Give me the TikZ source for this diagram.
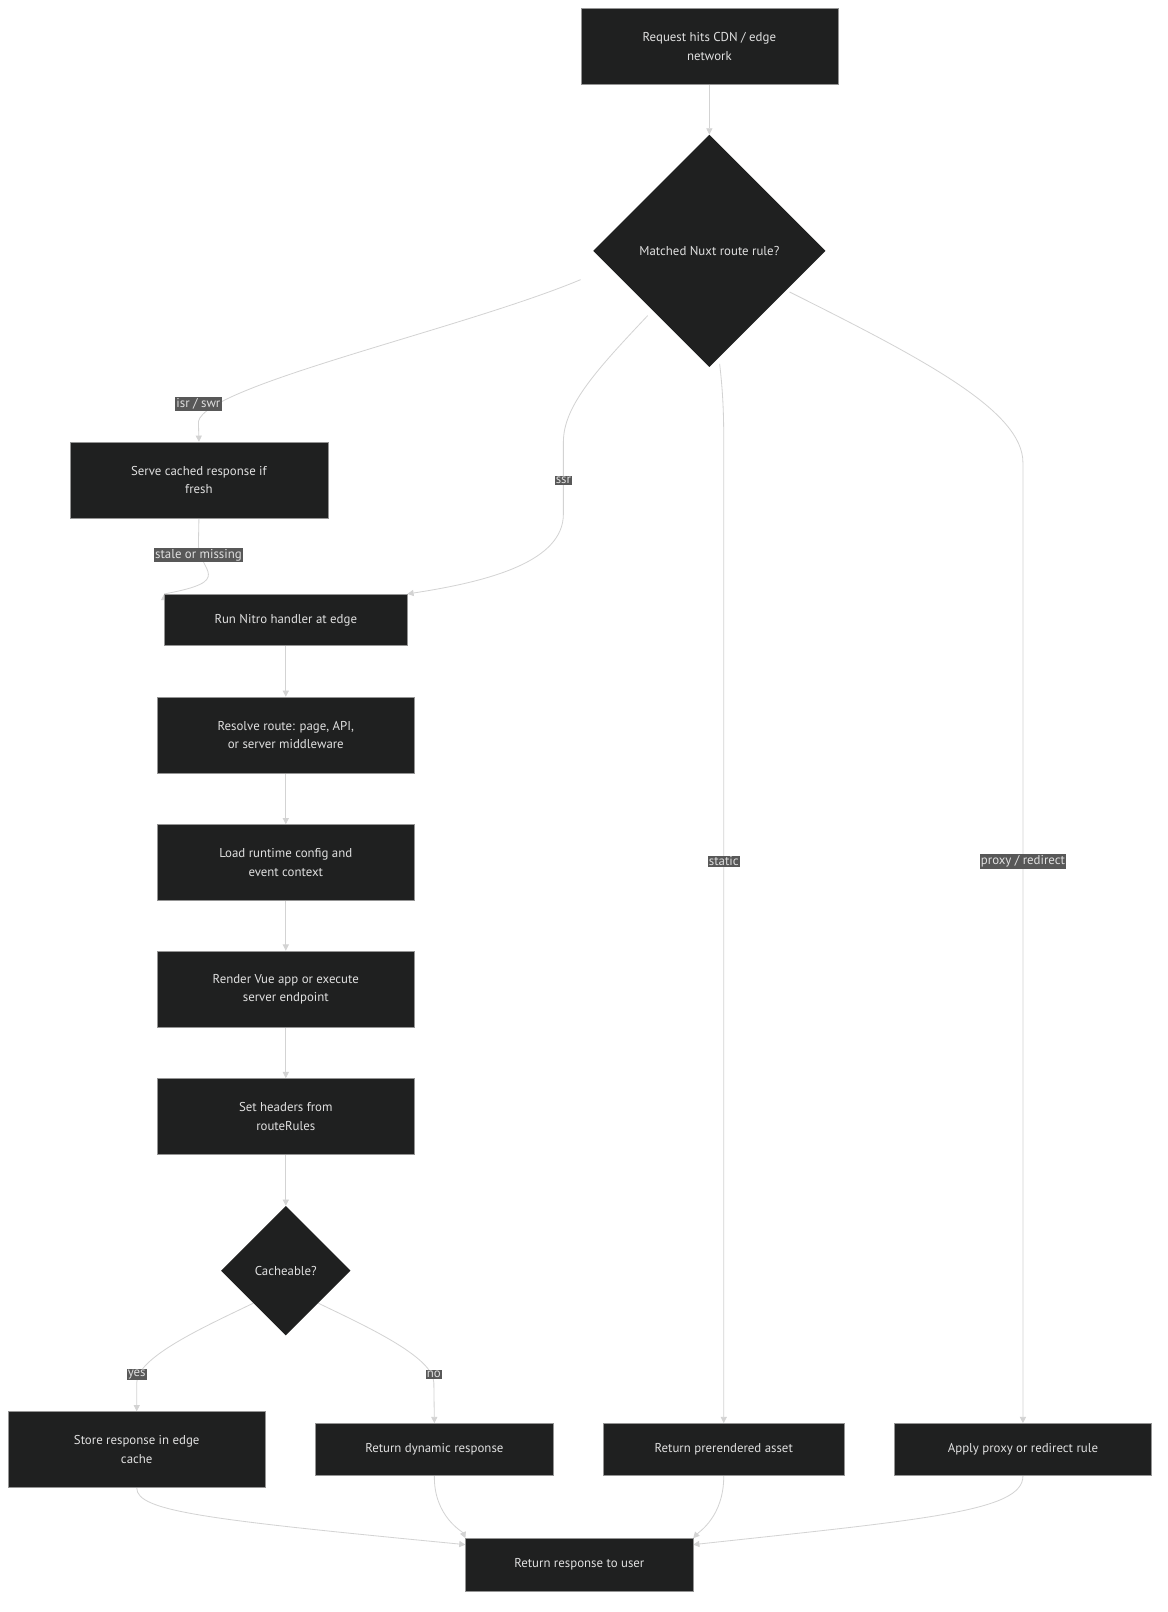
\documentclass[tikz,border=0pt]{standalone}
\usepackage{fontspec}
\setmainfont{PT Sans}
\usetikzlibrary{shapes.geometric,arrows.meta,backgrounds}
\definecolor{nodefill}{HTML}{1F2020}
\definecolor{edgec}{HTML}{D3D3D3}
\definecolor{lblfill}{HTML}{585858}
\definecolor{txt}{HTML}{E0E0E0}
\begin{document}
\begin{tikzpicture}[x=1pt,y=-1pt,
  box/.style={draw=edgec!70!black,line width=0.6pt,fill=nodefill,text=txt,minimum height=74,align=center,font=\fontsize{12.5}{18}\selectfont,inner sep=0pt},
  dia/.style={diamond,aspect=1,fill=nodefill,text=txt,inner sep=0pt,font=\fontsize{12.5}{18}\selectfont},
  e/.style={draw=edgec,line width=0.8pt,-{Triangle[length=6pt,width=6pt]}},
  lbl/.style={fill=lblfill,text=txt,inner sep=1.2pt,font=\fontsize{12.5}{15}\selectfont}]
\useasboundingbox (0,0) rectangle (1136,1568);
\node[box,minimum width=250] (req) at (690,45) {Request hits CDN / edge\\network};
\node[dia,minimum size=226] (dec) at (690,244) {Matched Nuxt route rule?};
\node[box,minimum width=251] (cache) at (193.5,467) {Serve cached response if\\fresh};
\node[box,minimum width=236,minimum height=50] (nitro) at (278,603) {Run Nitro handler at edge};
\node[box,minimum width=250] (resolve) at (278,715) {Resolve route: page, API,\\or server middleware};
\node[box,minimum width=250] (load) at (278,839) {Load runtime config and\\event context};
\node[box,minimum width=250] (render) at (278,962) {Render Vue app or execute\\server endpoint};
\node[box,minimum width=250] (headers) at (278,1086) {Set headers from\\routeRules};
\node[dia,minimum size=126] (cab) at (278,1236) {Cacheable?};
\node[box,minimum width=250] (store) at (133,1410) {Store response in edge\\cache};
\node[box,minimum width=231,minimum height=51] (dyn) at (422.5,1410) {Return dynamic response};
\node[box,minimum width=234,minimum height=51] (prer) at (704,1410) {Return prerendered asset};
\node[box,minimum width=250,minimum height=51] (proxy) at (995,1410) {Apply proxy or redirect rule};
\node[box,minimum width=221,minimum height=51] (user) at (563.5,1522) {Return response to user};
\begin{scope}[on background layer]
\draw[e] (req) -- (dec);
\draw[e] (dec.west) ++(-12,28) coordinate (d1) (d1) .. controls (450,320) and (200,375) .. (193,410) -- (cache.north);
\node[lbl] (l1) at (193,393) {isr / swr};
\draw[e] (dec) ++(-60,63) coordinate (d2) (d2) .. controls (580,360) and (548,395) .. (548,430) -- (548,500) .. controls (548,545) and (480,565) .. (nitro.north east);
\node[lbl] (l2) at (548,467) {ssr};
\draw[e] (dec) ++(10,110) coordinate (d3) (d3) .. controls (703,380) and (704,400) .. (704,430) -- (prer.north);
\node[lbl] (l3) at (704,838) {static};
\draw[e] (dec) ++(78,40) coordinate (d4) (d4) .. controls (900,350) and (995,400) .. (995,450) -- (proxy.north);
\node[lbl] (l4) at (995,838) {proxy / redirect};
\draw[e] (cache.south) -- (193,530) .. controls (193,555) and (230,565) .. (nitro.north west) ++(0,0);
\node[lbl] (l5) at (193,540) {stale or missing};
\draw[e] (nitro) -- (resolve);
\draw[e] (resolve) -- (load);
\draw[e] (load) -- (render);
\draw[e] (render) -- (headers);
\draw[e] (headers) -- (cab);
\draw[e] (cab.south west) ++(0,0) coordinate (c1) (c1) .. controls (200,1290) and (133,1320) .. (133,1345) -- (store.north);
\node[lbl] (l6) at (133,1337) {yes};
\draw[e] (cab.south east) coordinate (c2) (c2) .. controls (356,1290) and (422,1320) .. (422,1345) -- (dyn.north);
\node[lbl] (l7) at (422,1337) {no};
\draw[e] (store.south) .. controls (133,1470) and (200,1478) .. (user.170);
\draw[e] (dyn.south) .. controls (422,1475) and (450,1490) .. (user.north west);
\draw[e] (prer.south) .. controls (704,1475) and (680,1490) .. (user.north east);
\draw[e] (proxy.south) .. controls (995,1470) and (900,1478) .. (user.10);
\end{scope}
\end{tikzpicture}
\end{document}
